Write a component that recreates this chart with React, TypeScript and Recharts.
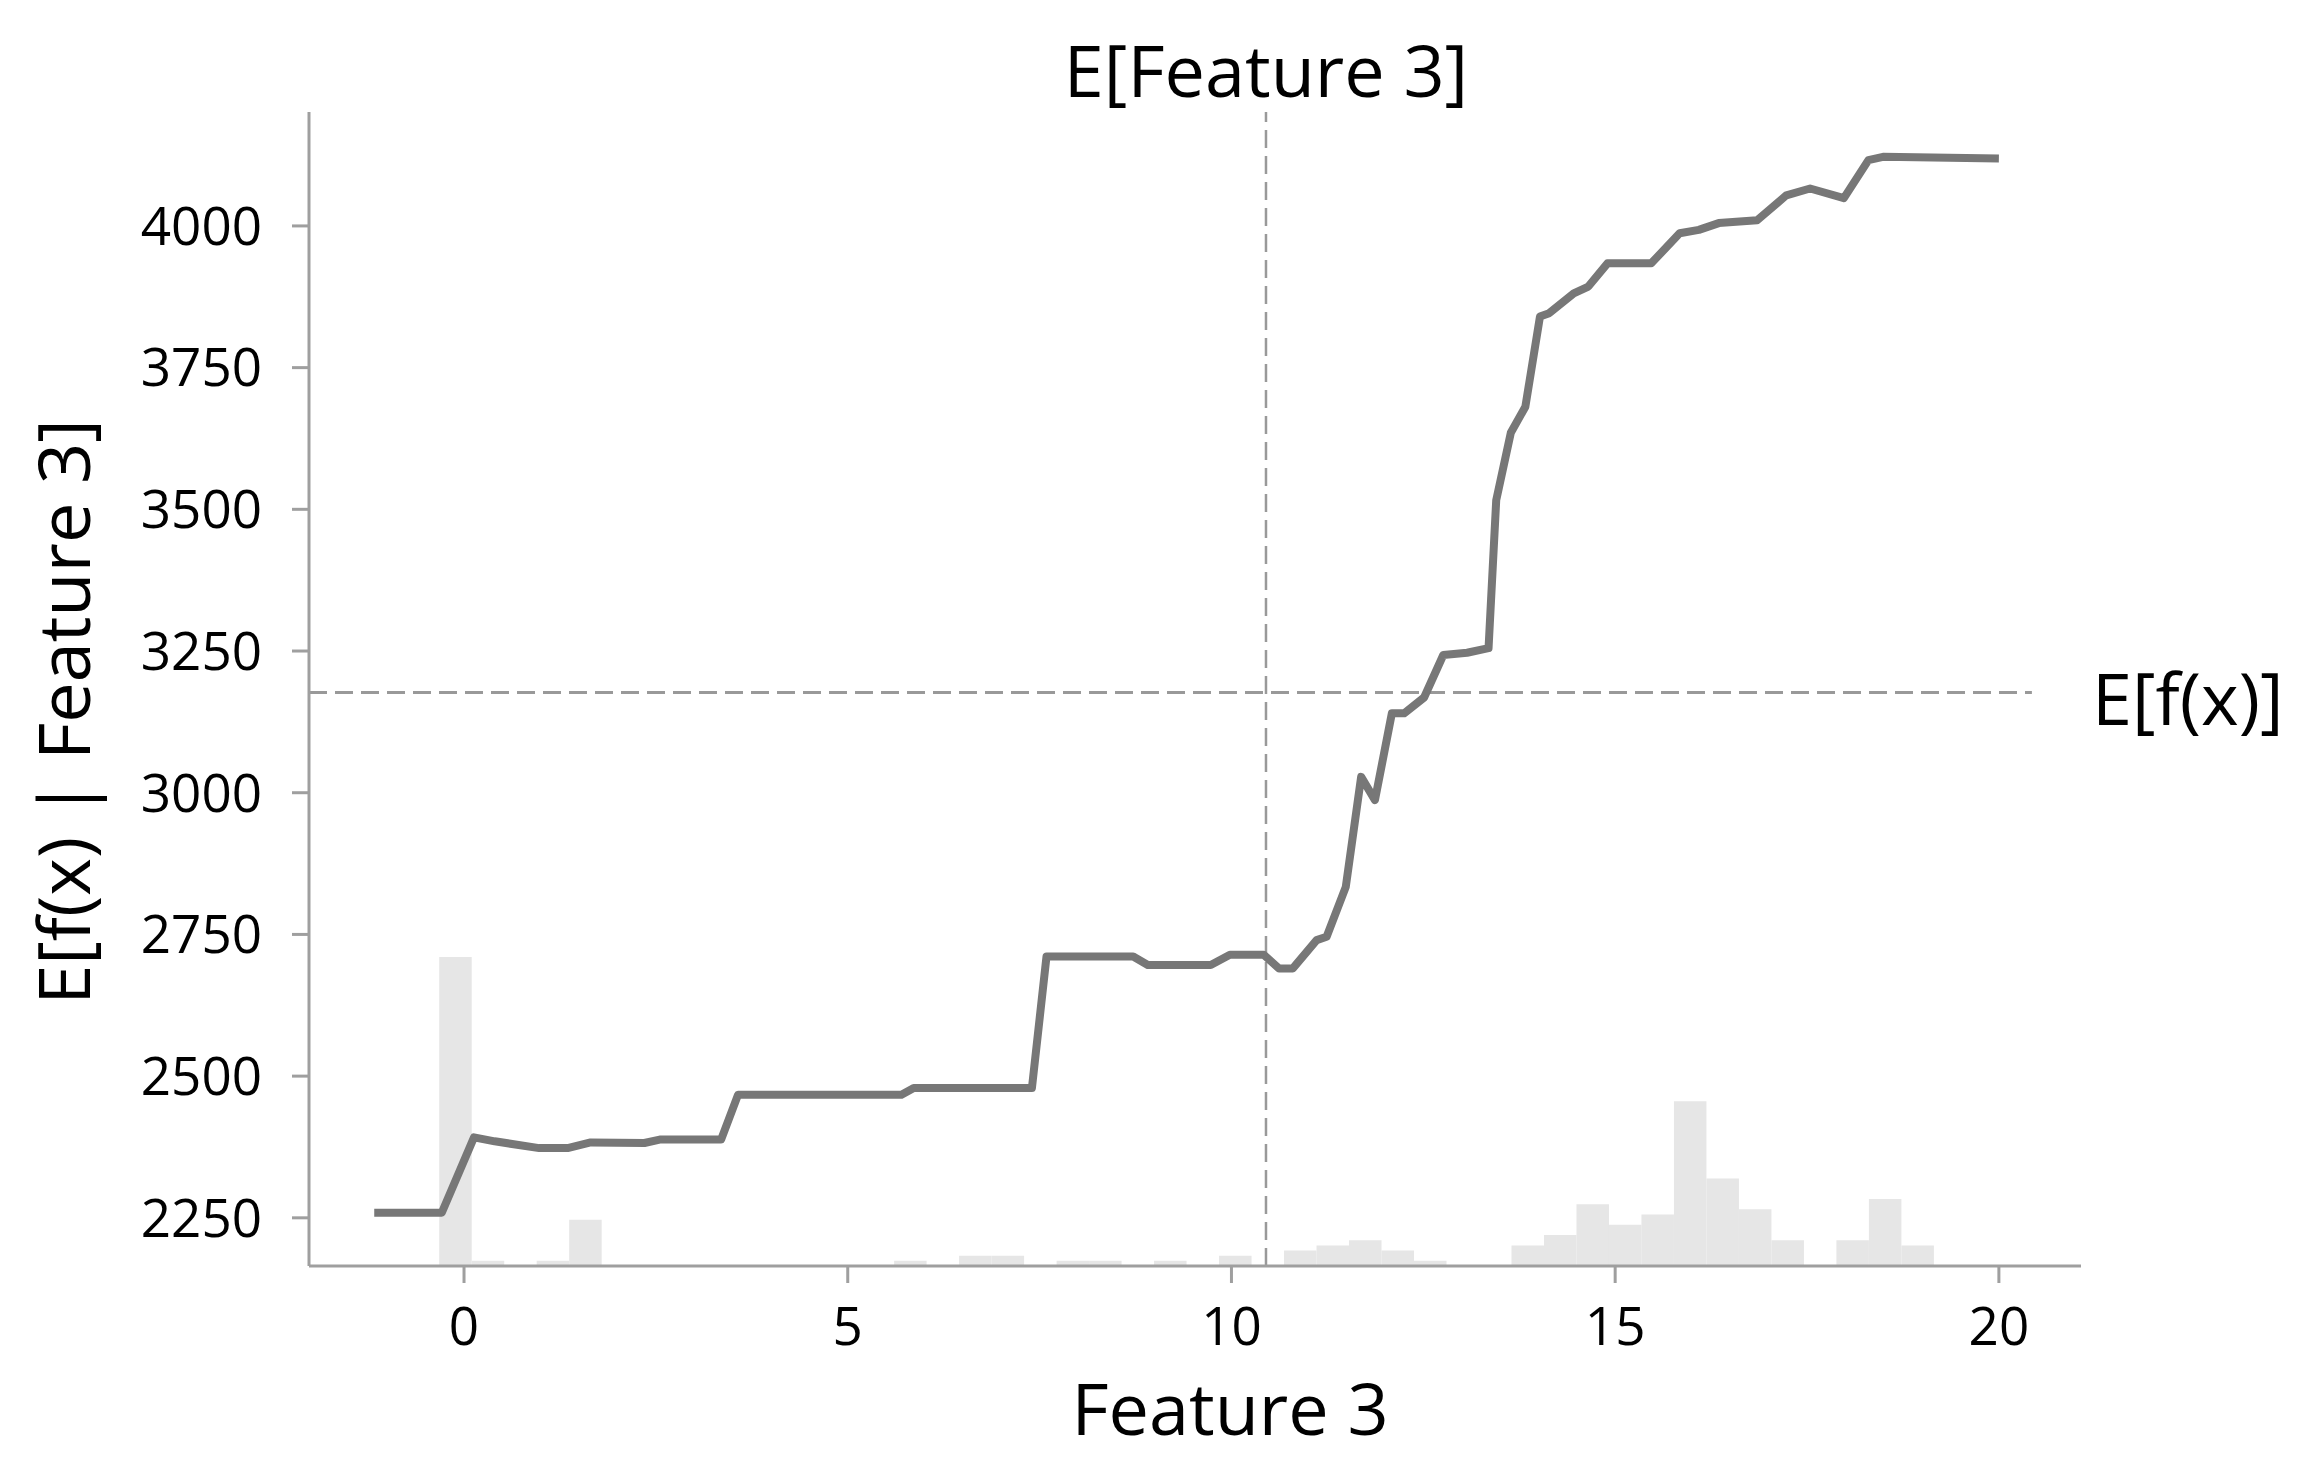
import {
  ComposedChart,
  Line,
  XAxis,
  YAxis,
  ReferenceLine,
  ReferenceArea,
  Label,
} from "recharts";

// partial dependence curve
const featureValues = [
  -1.17, -0.29, 0.13, 0.4, 0.98, 1.35, 1.65, 2.35, 2.55, 3.35, 3.57, 5.7, 5.86,
  7.4, 7.59, 8.72, 8.91, 9.73, 9.98, 10.42, 10.62, 10.8, 11.11, 11.24, 11.49,
  11.69, 11.87, 12.09, 12.25, 12.51, 12.76, 13.07, 13.35, 13.45, 13.64, 13.83,
  14.02, 14.14, 14.46, 14.65, 14.9, 15.47, 15.84, 16.09, 16.35, 16.85, 17.23,
  17.54, 17.98, 18.3, 18.49, 20.0,
];
const expectedOutput = [
  2259, 2259, 2392, 2385, 2373, 2373, 2383, 2382, 2388, 2388, 2467, 2467, 2479,
  2479, 2711, 2711, 2696, 2696, 2714, 2714, 2690, 2690, 2740, 2746, 2834, 3028,
  2987, 3140, 3140, 3168, 3243, 3247, 3255, 3516, 3635, 3681, 3840, 3846, 3881,
  3893, 3934, 3934, 3987, 3993, 4005, 4010, 4054, 4066, 4049, 4116, 4122, 4119,
];

// 50-bin histogram of the feature
const histRange = [-1.17, 20.0];
const histCounts = [
  0, 0, 60, 1, 0, 1, 9, 0, 0, 0, 0, 0, 0, 0, 0, 0, 1, 0, 2, 2, 0, 1, 1, 0, 1,
  0, 2, 0, 3, 4, 5, 3, 1, 0, 0, 4, 6, 12, 8, 10, 32, 17, 11, 5, 0, 5, 13, 4, 0,
  0,
];

const xTicks = [0, 5, 10, 15, 20];
const yTicks = [2250, 2500, 2750, 3000, 3250, 3500, 3750, 4000];
const xDomain = [-2.02, 21.07];
const yDomain = [2165, 4201];

const featureMean = 10.45;
const modelMean = 3177;
const meanLineEnd = 20.43;

const pdData = featureValues.map((x, i) => ({ x, y: expectedOutput[i] }));
const binWidth = (histRange[1] - histRange[0]) / histCounts.length;
const histBins = histCounts.map((count, i) => ({
  x1: histRange[0] + i * binWidth,
  x2: histRange[0] + (i + 1) * binWidth,
  count,
}));
const histTotal = histCounts.reduce((a, b) => a + b, 0);

const axisGrey = "#9f9f9f";

const BottomTitle = (props: any) => {
  const vb = props.viewBox || { x: 301, y: 1258, width: 1772, height: 198 };
  return (
    <text
      x={vb.x + vb.width / 2 + 35}
      y={vb.y + 169}
      textAnchor="middle"
      fontSize={72}
      fill="#000"
    >
      Feature 3
    </text>
  );
};

const LeftTitle = () => {
  const cx = 82;
  const cy = 704;
  return (
    <text
      x={cx}
      y={cy}
      transform={`rotate(-90 ${cx} ${cy})`}
      textAnchor="middle"
      fontSize={72}
      fill="#000"
    >
      E[f(x) | Feature 3]
    </text>
  );
};

const App = () => {
  return (
    <ComposedChart
      width={2300}
      height={1456}
      margin={{ top: 0, right: 0, bottom: 0, left: 0 }}
      style={{ fontFamily: "'Open Sans', sans-serif" }}
    >
      {histBins
        .filter((b) => b.count > 0)
        .map((b, i) => (
          <ReferenceArea
            key={i}
            xAxisId="main"
            yAxisId="hist"
            x1={b.x1}
            x2={b.x2}
            y1={0}
            y2={b.count}
            fill="#e6e6e6"
            fillOpacity={1}
            stroke="none"
          />
        ))}
      <XAxis
        xAxisId="main"
        dataKey="x"
        type="number"
        domain={xDomain}
        allowDataOverflow
        ticks={xTicks}
        interval={0}
        height={198}
        tickSize={17}
        tickMargin={24}
        axisLine={{ stroke: axisGrey, strokeWidth: 3 }}
        tickLine={{ stroke: axisGrey, strokeWidth: 3 }}
        tick={{ fontSize: 53, fill: "#000" }}
      >
        <Label content={<BottomTitle />} />
      </XAxis>
      <XAxis
        xAxisId="top"
        orientation="top"
        dataKey="x"
        type="number"
        domain={xDomain}
        allowDataOverflow
        ticks={[featureMean]}
        interval={0}
        tickFormatter={() => "E[Feature 3]"}
        height={104}
        tickSize={0}
        tickMargin={15}
        axisLine={false}
        tickLine={false}
        tick={{ fontSize: 72, fill: "#000" }}
      />
      <YAxis
        yAxisId="pd"
        type="number"
        domain={yDomain}
        allowDataOverflow
        ticks={yTicks}
        interval={0}
        width={301}
        tickSize={17}
        tickMargin={30}
        axisLine={{ stroke: axisGrey, strokeWidth: 3 }}
        tickLine={{ stroke: axisGrey, strokeWidth: 3 }}
        tick={{ fontSize: 53, fill: "#000" }}
      >
        <Label content={<LeftTitle />} />
      </YAxis>
      <YAxis
        yAxisId="ev"
        orientation="right"
        type="number"
        domain={yDomain}
        allowDataOverflow
        ticks={[modelMean]}
        interval={0}
        tickFormatter={() => "E[f(x)]"}
        width={227}
        tickSize={0}
        tickMargin={11}
        axisLine={false}
        tickLine={false}
        tick={{ fontSize: 72, fill: "#000", dy: 7 }}
      />
      <YAxis
        yAxisId="hist"
        orientation="right"
        hide
        width={0}
        domain={[0, histTotal]}
        allowDataOverflow
      />
      <ReferenceLine
        xAxisId="main"
        yAxisId="pd"
        x={featureMean}
        stroke="#999999"
        strokeWidth={2.5}
        strokeDasharray="18 8"
      />
      <ReferenceLine
        xAxisId="main"
        yAxisId="pd"
        segment={[
          { x: xDomain[0], y: modelMean },
          { x: meanLineEnd, y: modelMean },
        ]}
        stroke="#999999"
        strokeWidth={3}
        strokeDasharray="18 8"
      />
      <Line
        xAxisId="main"
        yAxisId="pd"
        data={pdData}
        dataKey="y"
        type="linear"
        stroke="#777777"
        strokeWidth={8}
        strokeLinejoin="round"
        dot={false}
        activeDot={false}
        isAnimationActive={false}
      />
    </ComposedChart>
  );
};

export default App;
